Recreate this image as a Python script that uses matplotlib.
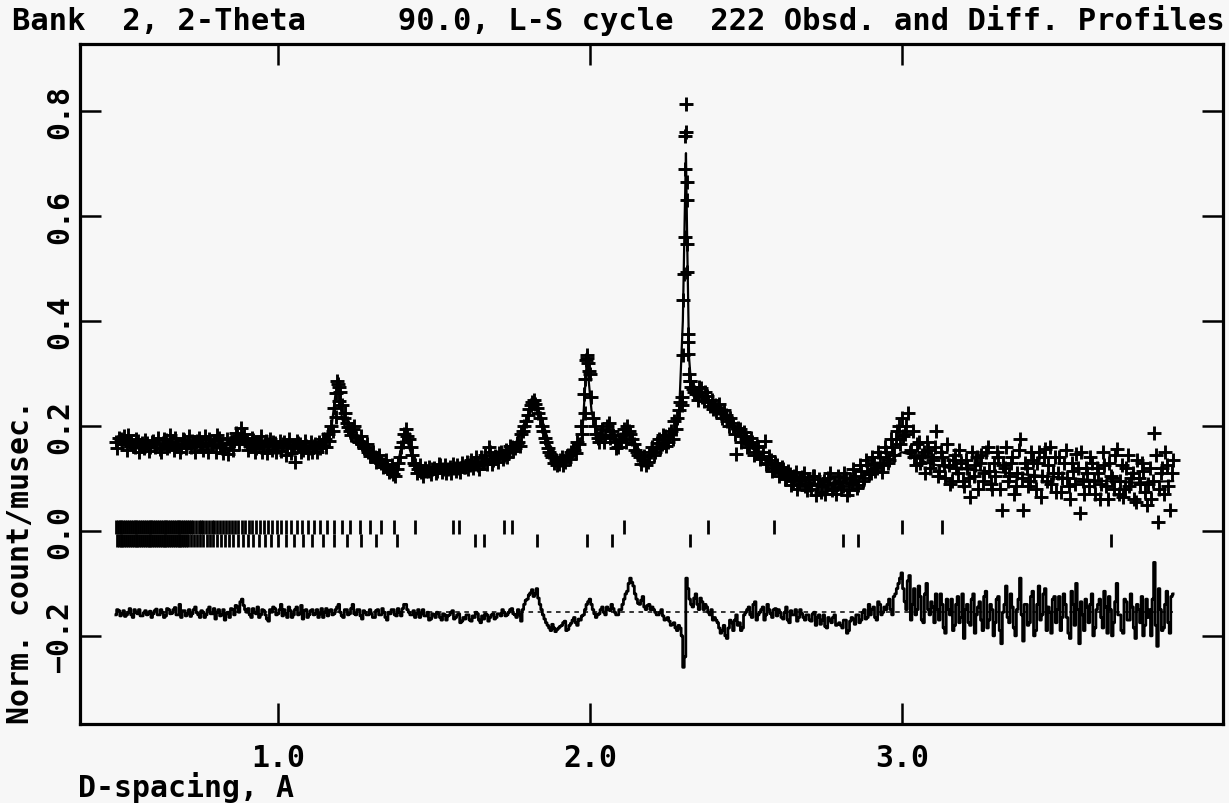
import numpy as np
import matplotlib
matplotlib.use("Agg")
import matplotlib.pyplot as plt

plt.rcParams["font.family"] = "DejaVu Sans Mono"
plt.rcParams["font.weight"] = "bold"

# observed profile, one point every 0.01 A from 0.48 to 3.87
d_obs = np.arange(48, 388) / 100
y_obs = [0.170, 0.178,
         0.165, 0.172, 0.182, 0.168, 0.160, 0.171, 0.163, 0.158, 0.167, 0.160,
         0.172, 0.165, 0.157, 0.168, 0.174, 0.162, 0.170, 0.178, 0.165, 0.160,
         0.173, 0.168, 0.159, 0.166, 0.171, 0.162, 0.155, 0.168, 0.176, 0.163,
         0.150, 0.178, 0.165, 0.158, 0.146, 0.168, 0.172, 0.180, 0.196, 0.185,
         0.170, 0.162, 0.174, 0.158, 0.165, 0.150, 0.172, 0.166, 0.155, 0.168,
         0.160, 0.152, 0.170, 0.163, 0.148, 0.158, 0.172, 0.165, 0.155, 0.162,
         0.158, 0.150, 0.165, 0.170, 0.162, 0.175, 0.185, 0.200, 0.235, 0.285,
         0.265, 0.215, 0.205, 0.190, 0.195, 0.178, 0.170, 0.165, 0.160, 0.150,
         0.145, 0.140, 0.138, 0.130, 0.128, 0.120, 0.115, 0.108, 0.118, 0.140,
         0.170, 0.195, 0.175, 0.145, 0.125, 0.118, 0.112, 0.120, 0.115, 0.108,
         0.120, 0.115, 0.125, 0.118, 0.110, 0.122, 0.128, 0.115, 0.120, 0.130,
         0.122, 0.118, 0.135, 0.128, 0.125, 0.140, 0.132, 0.128, 0.150, 0.135,
         0.140, 0.148, 0.138, 0.155, 0.150, 0.160, 0.158, 0.170, 0.185, 0.200,
         0.220, 0.240, 0.250, 0.235, 0.215, 0.190, 0.170, 0.150, 0.140, 0.135,
         0.128, 0.140, 0.132, 0.145, 0.150, 0.155, 0.170, 0.200, 0.260, 0.335,
         0.300, 0.215, 0.185, 0.170, 0.195, 0.180, 0.205, 0.190, 0.170, 0.160,
         0.175, 0.195, 0.200, 0.185, 0.165, 0.150, 0.140, 0.135, 0.125, 0.145,
         0.160, 0.150, 0.175, 0.165, 0.180, 0.170, 0.190, 0.210, 0.215, 0.245,
         0.440, 0.630, 0.285, 0.270, 0.260, 0.275, 0.255, 0.265, 0.245, 0.250,
         0.240, 0.235, 0.225, 0.230, 0.210, 0.215, 0.200, 0.147, 0.195, 0.180,
         0.175, 0.165, 0.170, 0.150, 0.160, 0.140, 0.172, 0.130, 0.135, 0.120,
         0.125, 0.110, 0.118, 0.100, 0.108, 0.095, 0.112, 0.090, 0.102, 0.085,
         0.098, 0.080, 0.105, 0.090, 0.075, 0.095, 0.088, 0.110, 0.082, 0.070,
         0.095, 0.085, 0.100, 0.078, 0.092, 0.105, 0.088, 0.115, 0.100, 0.125,
         0.110, 0.130, 0.120, 0.140, 0.125, 0.150, 0.135, 0.160, 0.175, 0.200,
         0.215, 0.185, 0.225, 0.155, 0.140, 0.165, 0.130, 0.150, 0.170, 0.120,
         0.135, 0.190, 0.115, 0.140, 0.100, 0.125, 0.095, 0.145, 0.110, 0.130,
         0.085, 0.120, 0.065, 0.105, 0.140, 0.130, 0.095, 0.150, 0.115, 0.080,
         0.105, 0.140, 0.040, 0.120, 0.095, 0.130, 0.070, 0.110, 0.175, 0.040,
         0.120, 0.095, 0.135, 0.080, 0.150, 0.105, 0.156, 0.125, 0.090, 0.140,
         0.110, 0.075, 0.130, 0.100, 0.060, 0.115, 0.147, 0.035, 0.095, 0.120,
         0.085, 0.130, 0.070, 0.110, 0.090, 0.125, 0.060, 0.105, 0.080, 0.156,
         0.095, 0.065, 0.120, 0.085, 0.110, 0.055, 0.100, 0.130, 0.075, 0.090,
         0.060, 0.187, 0.017, 0.110, 0.070, 0.125, 0.040, 0.135]

# second set of observed points, halfway between, 0.485 to 3.865
d_obs2 = np.arange(485, 3870, 10) / 1000
y_obs2 = [0.158, 0.175,
          0.180, 0.155, 0.170, 0.162, 0.176, 0.150, 0.168, 0.174, 0.152, 0.170,
          0.160, 0.178, 0.150, 0.175, 0.158, 0.182, 0.155, 0.166, 0.150, 0.176,
          0.158, 0.180, 0.172, 0.150, 0.177, 0.168, 0.180, 0.150, 0.164, 0.172,
          0.182, 0.160, 0.148, 0.176, 0.168, 0.155, 0.186, 0.165, 0.178, 0.172,
          0.155, 0.178, 0.150, 0.170, 0.180, 0.162, 0.148, 0.175, 0.170, 0.150,
          0.172, 0.165, 0.145, 0.176, 0.160, 0.132, 0.168, 0.150, 0.172, 0.148,
          0.170, 0.162, 0.150, 0.158, 0.175, 0.160, 0.172, 0.190, 0.218, 0.275,
          0.240, 0.225, 0.198, 0.182, 0.200, 0.172, 0.180, 0.158, 0.165, 0.142,
          0.150, 0.132, 0.145, 0.122, 0.136, 0.112, 0.125, 0.105, 0.130, 0.160,
          0.185, 0.180, 0.160, 0.130, 0.110, 0.125, 0.105, 0.115, 0.122, 0.118,
          0.110, 0.128, 0.112, 0.125, 0.118, 0.110, 0.120, 0.125, 0.112, 0.122,
          0.132, 0.125, 0.120, 0.140, 0.118, 0.130, 0.145, 0.160, 0.128, 0.142,
          0.132, 0.150, 0.145, 0.140, 0.162, 0.152, 0.168, 0.162, 0.190, 0.210,
          0.232, 0.245, 0.242, 0.225, 0.200, 0.178, 0.158, 0.145, 0.130, 0.125,
          0.135, 0.125, 0.142, 0.138, 0.155, 0.148, 0.165, 0.185, 0.225, 0.320,
          0.255, 0.200, 0.178, 0.182, 0.170, 0.200, 0.178, 0.182, 0.158, 0.172,
          0.185, 0.170, 0.190, 0.175, 0.155, 0.145, 0.128, 0.142, 0.132, 0.150,
          0.145, 0.168, 0.158, 0.182, 0.162, 0.185, 0.175, 0.195, 0.230, 0.240,
          0.560, 0.360, 0.275, 0.265, 0.250, 0.272, 0.248, 0.258, 0.238, 0.232,
          0.228, 0.242, 0.215, 0.220, 0.200, 0.205, 0.185, 0.196, 0.170, 0.188,
          0.160, 0.178, 0.145, 0.162, 0.138, 0.150, 0.128, 0.142, 0.115, 0.130,
          0.105, 0.122, 0.098, 0.115, 0.088, 0.105, 0.080, 0.098, 0.110, 0.078,
          0.088, 0.105, 0.068, 0.098, 0.085, 0.070, 0.100, 0.078, 0.092, 0.105,
          0.080, 0.110, 0.068, 0.098, 0.118, 0.082, 0.125, 0.095, 0.135, 0.108,
          0.140, 0.115, 0.150, 0.112, 0.160, 0.130, 0.175, 0.145, 0.190, 0.165,
          0.180, 0.200, 0.150, 0.190, 0.125, 0.170, 0.145, 0.110, 0.155, 0.140,
          0.160, 0.105, 0.150, 0.125, 0.165, 0.090, 0.135, 0.120, 0.155, 0.095,
          0.135, 0.100, 0.150, 0.125, 0.080, 0.145, 0.110, 0.160, 0.090, 0.130,
          0.150, 0.080, 0.125, 0.160, 0.105, 0.140, 0.085, 0.155, 0.100, 0.130,
          0.085, 0.150, 0.105, 0.130, 0.065, 0.140, 0.095, 0.160, 0.110, 0.075,
          0.140, 0.100, 0.155, 0.085, 0.130, 0.090, 0.120, 0.150, 0.070, 0.110,
          0.140, 0.095, 0.120, 0.060, 0.150, 0.085, 0.130, 0.100, 0.145, 0.070,
          0.125, 0.080, 0.145, 0.100, 0.060, 0.135, 0.090, 0.115, 0.050, 0.120,
          0.095, 0.145, 0.080, 0.120, 0.150, 0.085, 0.110]

# extra observed points on the sharp peaks
peak_d = [1.187, 1.192, 1.196, 1.984, 1.988, 1.992, 1.996,
          2.296, 2.299, 2.301, 2.304, 2.306, 2.307, 2.309, 2.310, 2.311,
          2.312, 2.314, 2.316, 2.318, 2.321]
peak_y = [0.262, 0.280, 0.248, 0.290, 0.325, 0.330, 0.305,
          0.255, 0.335, 0.490, 0.690, 0.752, 0.813, 0.760, 0.665, 0.547,
          0.493, 0.375, 0.337, 0.300, 0.285]

# calculated profile
calc_d = [0.48, 0.55, 0.62, 0.70, 0.78, 0.85, 0.88, 0.92, 1.00, 1.08,
          1.14, 1.17, 1.185, 1.195, 1.205, 1.22, 1.26, 1.30, 1.35, 1.38,
          1.40, 1.41, 1.42, 1.44, 1.50, 1.60, 1.70, 1.76, 1.80, 1.82,
          1.84, 1.87, 1.90, 1.95, 1.975, 1.99, 2.005, 2.02, 2.06, 2.10,
          2.13, 2.17, 2.22, 2.26, 2.285, 2.298, 2.304, 2.308, 2.312, 2.318,
          2.325, 2.34, 2.40, 2.45, 2.50, 2.55, 2.60, 2.65, 2.70, 2.75,
          2.80, 2.85, 2.90, 2.95, 3.00, 3.03, 3.08, 3.15, 3.25, 3.35,
          3.45, 3.55, 3.65, 3.75, 3.87]
calc_y = [0.168, 0.166, 0.165, 0.166, 0.165, 0.165, 0.172, 0.166, 0.162, 0.160,
          0.165, 0.19, 0.265, 0.27, 0.215, 0.19, 0.17, 0.148, 0.125, 0.12,
          0.17, 0.185, 0.16, 0.122, 0.118, 0.122, 0.142, 0.165, 0.215, 0.245,
          0.225, 0.165, 0.138, 0.148, 0.18, 0.325, 0.23, 0.185, 0.195, 0.175,
          0.185, 0.14, 0.155, 0.175, 0.21, 0.40, 0.60, 0.72, 0.55, 0.33,
          0.275, 0.265, 0.235, 0.205, 0.17, 0.14, 0.115, 0.10, 0.092, 0.088,
          0.09, 0.095, 0.11, 0.13, 0.15, 0.145, 0.13, 0.12, 0.115, 0.11,
          0.105, 0.10, 0.095, 0.092, 0.095]

# difference curve (obs - calc, shifted), on both point sets
diff_base = -0.155
diff_y = [-0.160, -0.152,
          -0.158, -0.163, -0.155, -0.160, -0.150, -0.158, -0.162, -0.156, -0.160, -0.153,
          -0.158, -0.149, -0.160, -0.155, -0.162, -0.150, -0.157, -0.146, -0.160, -0.165,
          -0.152, -0.158, -0.163, -0.150, -0.156, -0.165, -0.155, -0.160, -0.145, -0.158,
          -0.168, -0.150, -0.160, -0.170, -0.155, -0.148, -0.160, -0.145, -0.135, -0.142,
          -0.155, -0.160, -0.148, -0.158, -0.165, -0.150, -0.160, -0.172, -0.155, -0.148,
          -0.158, -0.140, -0.150, -0.165, -0.152, -0.160, -0.145, -0.158, -0.168, -0.150,
          -0.160, -0.150, -0.158, -0.165, -0.148, -0.155, -0.162, -0.150, -0.158, -0.145,
          -0.155, -0.165, -0.150, -0.158, -0.140, -0.160, -0.150, -0.168, -0.155, -0.160,
          -0.158, -0.165, -0.150, -0.160, -0.155, -0.170, -0.158, -0.150, -0.162, -0.155,
          -0.148, -0.140, -0.155, -0.160, -0.165, -0.150, -0.158, -0.162, -0.155, -0.168,
          -0.160, -0.155, -0.165, -0.158, -0.170, -0.160, -0.152, -0.165, -0.158, -0.172,
          -0.168, -0.160, -0.172, -0.165, -0.158, -0.175, -0.168, -0.160, -0.165, -0.158,
          -0.165, -0.158, -0.150, -0.162, -0.155, -0.148, -0.160, -0.150, -0.172, -0.140,
          -0.130, -0.118, -0.125, -0.110, -0.140, -0.160, -0.175, -0.185, -0.178, -0.192,
          -0.185, -0.180, -0.172, -0.188, -0.176, -0.165, -0.180, -0.170, -0.160, -0.140,
          -0.130, -0.150, -0.165, -0.158, -0.145, -0.160, -0.150, -0.140, -0.155, -0.160,
          -0.150, -0.130, -0.115, -0.090, -0.105, -0.130, -0.140, -0.125, -0.150, -0.140,
          -0.145, -0.155, -0.160, -0.150, -0.170, -0.165, -0.180, -0.175, -0.190, -0.185,
          -0.260, -0.090, -0.130, -0.145, -0.120, -0.150, -0.135, -0.140, -0.155, -0.150,
          -0.165, -0.175, -0.195, -0.180, -0.205, -0.170, -0.190, -0.160, -0.175, -0.185,
          -0.155, -0.145, -0.165, -0.135, -0.160, -0.150, -0.170, -0.140, -0.158, -0.150,
          -0.162, -0.155, -0.168, -0.145, -0.175, -0.160, -0.150, -0.165, -0.158, -0.170,
          -0.160, -0.172, -0.155, -0.165, -0.178, -0.160, -0.185, -0.170, -0.165, -0.180,
          -0.175, -0.185, -0.170, -0.190, -0.165, -0.178, -0.160, -0.170, -0.150, -0.165,
          -0.160, -0.145, -0.170, -0.140, -0.155, -0.150, -0.130, -0.160, -0.120, -0.100,
          -0.080, -0.135, -0.095, -0.170, -0.110, -0.150, -0.125, -0.175, -0.100, -0.160,
          -0.145, -0.120, -0.170, -0.140, -0.195, -0.150, -0.130, -0.180, -0.125, -0.165,
          -0.205, -0.140, -0.180, -0.120, -0.160, -0.135, -0.190, -0.115, -0.170, -0.150,
          -0.175, -0.125, -0.215, -0.140, -0.165, -0.120, -0.185, -0.150, -0.090, -0.210,
          -0.140, -0.175, -0.115, -0.190, -0.105, -0.160, -0.110, -0.145, -0.195, -0.125,
          -0.150, -0.190, -0.120, -0.165, -0.205, -0.140, -0.100, -0.215, -0.160, -0.130,
          -0.175, -0.120, -0.185, -0.140, -0.165, -0.115, -0.195, -0.150, -0.175, -0.100,
          -0.160, -0.195, -0.135, -0.170, -0.145, -0.205, -0.150, -0.125, -0.180, -0.165,
          -0.200, -0.060, -0.220, -0.150, -0.185, -0.115, -0.195, -0.120]
diff_y2 = [-0.150, -0.162,
           -0.152, -0.160, -0.148, -0.165, -0.155, -0.150, -0.162, -0.152, -0.158, -0.165,
           -0.152, -0.160, -0.150, -0.165, -0.148, -0.158, -0.150, -0.160, -0.140, -0.152,
           -0.162, -0.150, -0.158, -0.145, -0.160, -0.152, -0.165, -0.150, -0.158, -0.148,
           -0.155, -0.162, -0.150, -0.158, -0.165, -0.150, -0.142, -0.155, -0.130, -0.150,
           -0.148, -0.165, -0.155, -0.145, -0.160, -0.152, -0.168, -0.150, -0.145, -0.160,
           -0.150, -0.162, -0.158, -0.145, -0.165, -0.150, -0.160, -0.142, -0.152, -0.165,
           -0.152, -0.160, -0.150, -0.158, -0.165, -0.148, -0.152, -0.160, -0.150, -0.140,
           -0.162, -0.150, -0.160, -0.148, -0.158, -0.150, -0.162, -0.152, -0.160, -0.150,
           -0.165, -0.152, -0.160, -0.148, -0.165, -0.155, -0.150, -0.160, -0.148, -0.162,
           -0.140, -0.150, -0.160, -0.152, -0.158, -0.165, -0.150, -0.162, -0.170, -0.158,
           -0.165, -0.158, -0.170, -0.160, -0.162, -0.155, -0.168, -0.160, -0.175, -0.165,
           -0.160, -0.170, -0.162, -0.155, -0.170, -0.162, -0.158, -0.172, -0.160, -0.168,
           -0.158, -0.162, -0.155, -0.160, -0.150, -0.158, -0.165, -0.160, -0.150, -0.132,
           -0.122, -0.112, -0.120, -0.128, -0.150, -0.168, -0.180, -0.190, -0.185, -0.188,
           -0.182, -0.175, -0.190, -0.180, -0.170, -0.175, -0.168, -0.162, -0.150, -0.135,
           -0.140, -0.158, -0.160, -0.150, -0.155, -0.145, -0.152, -0.148, -0.160, -0.150,
           -0.140, -0.120, -0.100, -0.098, -0.120, -0.138, -0.132, -0.145, -0.142, -0.150,
           -0.150, -0.160, -0.155, -0.162, -0.168, -0.172, -0.178, -0.185, -0.180, -0.200,
           -0.240, -0.110, -0.140, -0.128, -0.140, -0.128, -0.150, -0.145, -0.160, -0.170,
           -0.170, -0.185, -0.190, -0.200, -0.185, -0.175, -0.170, -0.180, -0.190, -0.160,
           -0.150, -0.160, -0.140, -0.170, -0.155, -0.145, -0.160, -0.150, -0.165, -0.148,
           -0.150, -0.165, -0.155, -0.170, -0.152, -0.160, -0.172, -0.150, -0.165, -0.160,
           -0.170, -0.158, -0.180, -0.160, -0.170, -0.182, -0.165, -0.175, -0.160, -0.178,
           -0.180, -0.170, -0.195, -0.172, -0.168, -0.160, -0.175, -0.155, -0.168, -0.140,
           -0.150, -0.165, -0.135, -0.160, -0.145, -0.140, -0.150, -0.125, -0.110, -0.090,
           -0.110, -0.150, -0.085, -0.140, -0.160, -0.105, -0.170, -0.120, -0.150, -0.135,
           -0.175, -0.150, -0.120, -0.185, -0.130, -0.160, -0.190, -0.140, -0.175, -0.120,
           -0.150, -0.175, -0.130, -0.195, -0.145, -0.170, -0.125, -0.185, -0.140, -0.200,
           -0.130, -0.190, -0.155, -0.105, -0.175, -0.145, -0.200, -0.130, -0.160, -0.140,
           -0.180, -0.125, -0.200, -0.140, -0.170, -0.120, -0.190, -0.155, -0.130, -0.175,
           -0.125, -0.165, -0.140, -0.195, -0.115, -0.180, -0.150, -0.135, -0.190, -0.145,
           -0.140, -0.200, -0.150, -0.130, -0.185, -0.145, -0.125, -0.200, -0.135, -0.160,
           -0.190, -0.130, -0.170, -0.120, -0.185, -0.140, -0.175, -0.200, -0.130, -0.150,
           -0.130, -0.180, -0.110, -0.190, -0.140, -0.175, -0.125]

# reflection positions, two phases
hkl_1 = [0.480, 0.486, 0.492, 0.498, 0.504, 0.510, 0.516, 0.522, 0.528, 0.534,
         0.540, 0.546, 0.552, 0.558, 0.564, 0.570, 0.576, 0.582, 0.588, 0.594,
         0.600, 0.606, 0.612, 0.618, 0.624, 0.630, 0.636, 0.642, 0.648, 0.654,
         0.660, 0.666, 0.672, 0.678, 0.684, 0.690, 0.696, 0.702, 0.708, 0.714,
         0.720, 0.728, 0.736, 0.745, 0.752, 0.760, 0.770, 0.778, 0.787, 0.795,
         0.805, 0.815, 0.823, 0.833, 0.842, 0.852, 0.862, 0.873, 0.884, 0.895,
         0.906, 0.918, 0.930, 0.943, 0.955, 0.968, 0.982, 0.996, 1.010, 1.026,
         1.042, 1.060, 1.078, 1.096, 1.115, 1.135, 1.158, 1.180, 1.205, 1.232,
         1.262, 1.295, 1.330, 1.372, 1.440, 1.560, 1.580, 1.725, 1.750, 2.110,
         2.380, 2.590, 3.000, 3.130]
hkl_2 = [0.483, 0.489, 0.495, 0.501, 0.507, 0.513, 0.519, 0.525, 0.531, 0.537,
         0.543, 0.549, 0.555, 0.561, 0.567, 0.573, 0.579, 0.585, 0.591, 0.597,
         0.603, 0.609, 0.615, 0.621, 0.627, 0.633, 0.639, 0.645, 0.651, 0.657,
         0.663, 0.669, 0.675, 0.681, 0.687, 0.693, 0.699, 0.705, 0.712, 0.721,
         0.730, 0.740, 0.750, 0.760, 0.771, 0.782, 0.793, 0.805, 0.817, 0.830,
         0.843, 0.857, 0.872, 0.887, 0.903, 0.920, 0.938, 0.957, 0.977, 1.000,
         1.025, 1.052, 1.080, 1.110, 1.143, 1.180, 1.220, 1.265, 1.315, 1.380,
         1.630, 1.660, 1.830, 1.990, 2.070, 2.320, 2.810, 2.860, 3.670]

title = "Bank  2, 2-Theta     90.0, L-S cycle  222 Obsd. and Diff. Profiles"

fig = plt.figure(figsize=(12.29, 8.04), dpi=100, facecolor="#f7f7f7")
ax = fig.add_axes([80 / 1229, 1 - 725 / 804, 1143 / 1229, 680 / 804])
ax.set_facecolor("#f7f7f7")

ax.plot(calc_d, calc_y, color="black", lw=1.6, zorder=2)
for dd, yy in [(d_obs, y_obs), (d_obs2, y_obs2), (peak_d, peak_y)]:
    ax.plot(dd, yy, ls="none", marker="+", ms=10, mew=2.1, color="black", zorder=3)
ax.vlines(hkl_1, -0.006, 0.020, color="black", lw=2.0)
ax.vlines(hkl_2, -0.030, -0.006, color="black", lw=2.0)

# difference line runs through both point sets in order of d
d_all = np.concatenate([d_obs, d_obs2])
order = np.argsort(d_all)
diff_all = np.concatenate([diff_y, diff_y2])[order]
ax.plot(d_all[order], diff_all, drawstyle="steps-mid", color="black", lw=2.0)
ax.plot([d_obs[0], d_obs[-1]], [diff_base, diff_base], ls=(0, (3, 3)), color="black", lw=1.1)

ax.set_xlim(0.365, 4.03)
ax.set_ylim(-0.368, 0.928)
ax.set_xticks([1, 2, 3])
ax.set_xticklabels(["1.0", "2.0", "3.0"])
ax.set_yticks([-0.2, 0.0, 0.2, 0.4, 0.6, 0.8])
ax.set_yticklabels(["\u22120.2", "0.0", "0.2", "0.4", "0.6", "0.8"])
ax.tick_params(direction="in", length=15, width=1.8, top=True, right=True, labelsize=21.5)
ax.tick_params(axis="x", pad=14)
ax.tick_params(axis="y", labelrotation=90, pad=4)
for lbl in ax.get_yticklabels():
    lbl.set_verticalalignment("center")
for s in ax.spines.values():
    s.set_linewidth(2.3)

fig.text(12 / 1229, 1 - 30 / 804, title, fontsize=22, ha="left", va="baseline")
fig.text(21 / 1229, 1 - 562 / 804, "Norm. count/musec.", rotation=90,
         ha="center", va="center", fontsize=21.5)
fig.text(78 / 1229, 1 - 797 / 804, "D-spacing, A", ha="left", va="baseline", fontsize=21.5)

fig.savefig("out.png", dpi=100, facecolor=fig.get_facecolor())
